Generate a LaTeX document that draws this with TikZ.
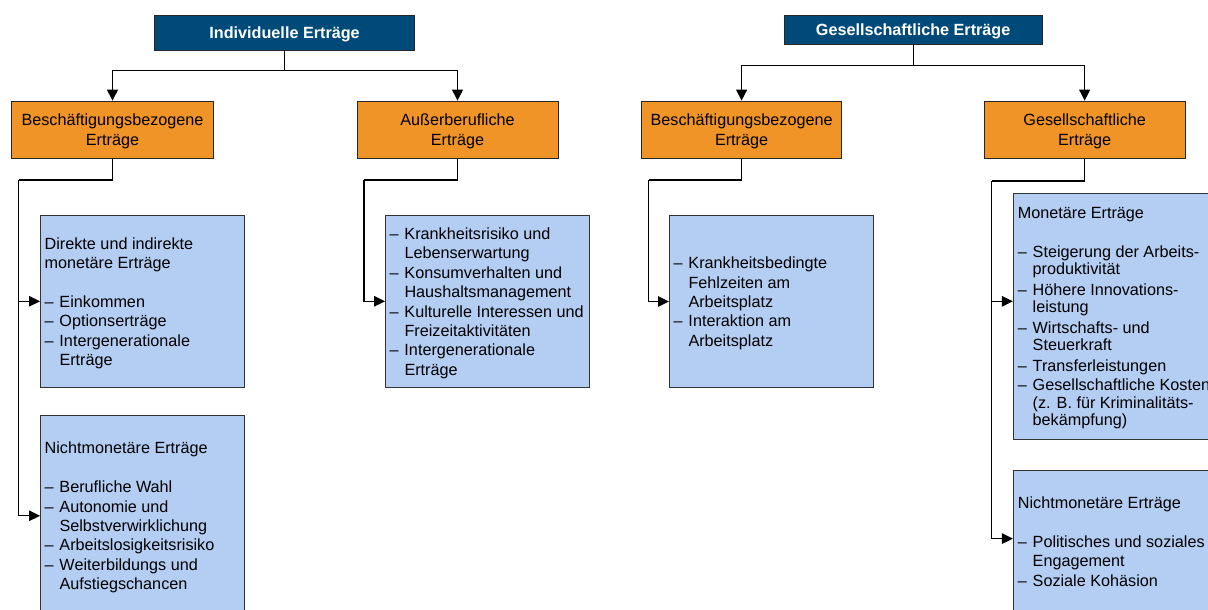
\documentclass[tikz,border=0pt]{standalone}
\usepackage{fontspec}
\setmainfont{Liberation Sans}
\usetikzlibrary{arrows.meta}
\definecolor{navy}{HTML}{004A7A}
\definecolor{orng}{HTML}{F09428}
\definecolor{lblue}{HTML}{B4CDF2}
\newcommand\myd{\makebox[14.8pt][l]{–}}
\newcommand\myi{\hspace*{14.8pt}}
\newcommand\mybx[2]{\raisebox{-2.2pt}[\height][\depth]{\makebox[#1][l]{\begin{tabular}{@{}l@{}}#2\end{tabular}}}}
\newcommand\myc[1]{\raisebox{-2pt}[\height][\depth]{\begin{tabular}{@{}c@{}}#1\end{tabular}}}
\newcommand\myt[1]{\raisebox{-1.6pt}[\height][\depth]{#1}}
\begin{document}
\begin{tikzpicture}[x=1pt,y=-1pt,
  font=\fontsize{16.2}{19.4}\selectfont,
  ttl/.style={draw=black!85, line width=0.8pt, fill=navy, text=white, inner sep=0pt,
    font=\bfseries\fontsize{16.2}{19.4}\selectfont},
  obox/.style={draw=black!85, line width=0.8pt, fill=orng, inner sep=0pt,
    minimum height=57.3pt, font=\fontsize{16.2}{20}\selectfont},
  bbox/.style={draw=black!80, line width=0.8pt, fill=lblue, inner xsep=4.3pt, inner ysep=0pt},
  tln/.style={line width=1pt},
  tarr/.style={tln, -{Triangle[length=11pt,width=11pt]}},
  ln/.style={line width=1.3pt},
  arr/.style={ln, -{Triangle[length=11pt,width=10.5pt]}}]
\useasboundingbox (0,0) rectangle (1208,610);
\clip (0,0) rectangle (1208,610);
\fill[white] (0,0) rectangle (1208,610);

% title boxes
\node[ttl, minimum width=260pt, minimum height=34.7pt] (t1) at (284.55,32.65) {\myt{Individuelle Erträge}};
\node[ttl, minimum width=257.7pt, minimum height=29pt] (t2) at (913.15,29.8) {\myt{Gesellschaftliche Erträge}};

% orange boxes
\node[obox, minimum width=202pt] (o1) at (112.5,129.65) {\myc{Beschäftigungsbezogene\\Erträge}};
\node[obox, minimum width=201pt] (o2) at (457.5,129.65) {\myc{Außerberufliche\\Erträge}};
\node[obox, minimum width=200.2pt] (o3) at (741.6,129.65) {\myc{Beschäftigungsbezogene\\Erträge}};
\node[obox, minimum width=200.7pt] (o4) at (1084.65,129.65) {\myc{Gesellschaftliche\\Erträge}};

% blue boxes
\node[bbox, minimum width=204.2pt, minimum height=172pt] (b1) at (142.5,301.3)
  {\mybx{195.6pt}{Direkte und indirekte\\monetäre Erträge\\ \\
   \myd Einkommen\\ \myd Optionserträge\\ \myd Intergenerationale\\ \myi Erträge}};
\node[bbox, minimum width=204.2pt, minimum height=200pt] (b2) at (142.5,515.8)
  {\mybx{195.6pt}{Nichtmonetäre Erträge\\ \\
   \myd Berufliche Wahl\\ \myd Autonomie und\\ \myi Selbstverwirklichung\\
   \myd Arbeitslosigkeitsrisiko\\ \myd Weiterbildungs und\\ \myi Aufstiegschancen}};
\node[bbox, minimum width=204.2pt, minimum height=172pt] (b3) at (487.5,301.3)
  {\mybx{195.6pt}{\myd Krankheitsrisiko und\\ \myi Lebenserwartung\\
   \myd Konsumverhalten und\\ \myi Haushaltsmanagement\\
   \myd Kulturelle Interessen und\\ \myi Freizeitaktivitäten\\
   \myd Intergenerationale\\ \myi Erträge}};
\node[bbox, minimum width=204pt, minimum height=171.6pt] (b4) at (771.4,301.5)
  {\mybx{195.4pt}{\myd Krankheitsbedingte\\ \myi Fehlzeiten am\\ \myi Arbeitsplatz\\
   \myd Interaktion am\\ \myi Arbeitsplatz}};
\node[bbox, inner xsep=4.6pt, minimum width=204pt, minimum height=246pt,
      font=\fontsize{16.2}{17.5}\selectfont] (b5) at (1115.3,316.3)
  {\mybx{194.8pt}{Monetäre Erträge\\[21pt]
   \myd Steigerung der Arbeits-\\ \myi produktivität\\[3pt]
   \myd Höhere Innovations-\\ \myi leistung\\[3pt]
   \myd Wirtschafts- und\\ \myi Steuerkraft\\[3pt]
   \myd Transferleistungen\\[2pt]
   \myd Gesellschaftliche Kosten\\ \myi (z. B. für Kriminalitäts-\\ \myi bekämpfung)}};
\node[bbox, inner xsep=4.6pt, minimum width=204pt, minimum height=143pt] (b6) at (1115.3,541.5)
  {\mybx{194.8pt}{Nichtmonetäre Erträge\\ \\
   \myd Politisches und soziales\\ \myi Engagement\\ \myd Soziale Kohäsion}};

% top connectors
\coordinate (h1) at (284.55,70.7);
\coordinate (h2) at (913.15,65.3);
\draw[tln] (t1.south) -- (h1);
\draw[tarr] (h1) -| (o1.north);
\draw[tarr] (h1) -| (o2.north);
\draw[tln] (t2.south) -- (h2);
\draw[tarr] (h2) -| (o3.north);
\draw[tarr] (h2) -| (o4.north);

% lower connectors
\coordinate (e1) at (18.5,180);
\coordinate (e2) at (364,180);
\coordinate (e3) at (648.5,180);
\coordinate (e4) at (991.7,181);
\path (b5.north west) ++(0,108.4) coordinate (a5);
\path (b6.north west) ++(0,69) coordinate (a6);

\draw[ln] (o1.south) |- (e1);
\draw[arr] (e1) |- (b1.west);
\draw[arr] (e1) |- (b2.west);
\draw[ln] (o2.south) |- (e2);
\draw[arr] (e2) |- (b3.west);
\draw[ln] (o3.south) |- (e3);
\draw[arr] (e3) |- (b4.west);
\draw[ln] (o4.south) |- (e4);
\draw[arr] (e4) |- (a5);
\draw[arr] (e4) |- (a6);
\end{tikzpicture}
\end{document}
